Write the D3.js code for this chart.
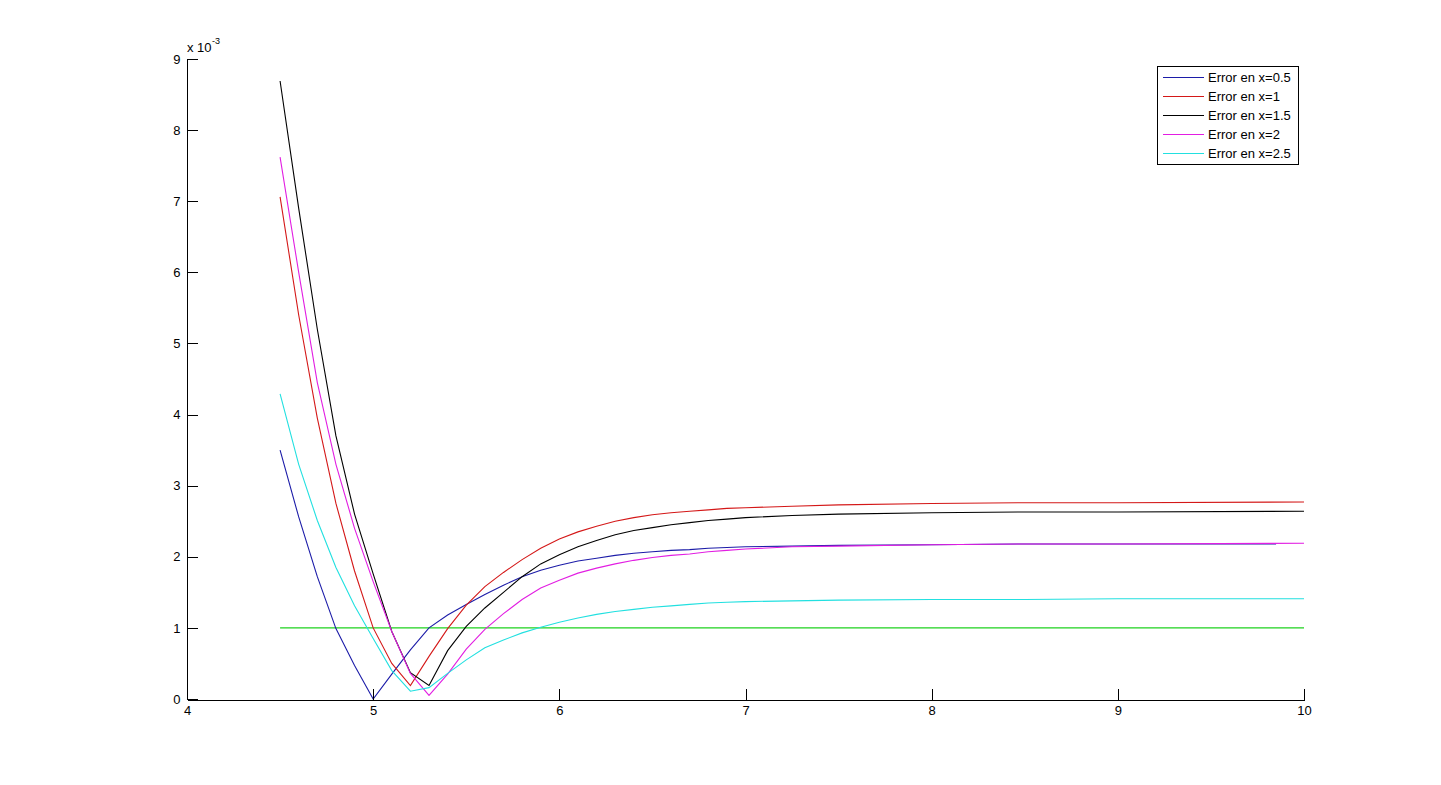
<!DOCTYPE html>
<html>
<head>
<meta charset="utf-8">
<script src="https://cdn.jsdelivr.net/npm/d3@7"></script>
<style>
    body { margin: 0; background: #fff; }
    svg text { font-family: 'Liberation Sans', Arial, sans-serif; font-size: 13px; fill: #000; }
</style>
</head>
<body>
<svg id="chart" width="1441" height="785"></svg>
<script>
// values are in units of 1e-3
const xGrid = [4.5, 4.6, 4.7, 4.8, 4.9, 5.0, 5.1, 5.2, 5.3, 5.4, 5.5, 5.6, 5.7, 5.8, 5.9, 6.0, 6.1, 6.2, 6.3, 6.4, 6.5, 6.6, 6.7, 6.8, 6.9, 7.0, 7.25, 7.5, 8, 8.5, 9, 10]
const xGridBlue = [4.5, 4.6, 4.7, 4.8, 4.9, 5.0, 5.1, 5.2, 5.3, 5.4, 5.5, 5.6, 5.7, 5.8, 5.9, 6.0, 6.1, 6.2, 6.3, 6.4, 6.5, 6.6, 6.7, 6.8, 6.9, 7.0, 7.25, 7.5, 8, 8.5, 9, 9.85]

const errBlue    = [3.50, 2.56, 1.72, 0.99, 0.47, 0.00, 0.35, 0.69, 1.00, 1.18, 1.33, 1.47, 1.60, 1.72, 1.81, 1.88, 1.94, 1.98, 2.02, 2.05, 2.07, 2.09, 2.10, 2.12, 2.13, 2.14, 2.15, 2.16, 2.17, 2.18, 2.18, 2.18]
const errRed     = [7.06, 5.40, 3.95, 2.75, 1.80, 1.00, 0.50, 0.19, 0.60, 0.99, 1.32, 1.58, 1.78, 1.96, 2.12, 2.25, 2.35, 2.43, 2.50, 2.55, 2.59, 2.62, 2.64, 2.66, 2.68, 2.69, 2.71, 2.73, 2.75, 2.76, 2.76, 2.77]
const errBlack   = [8.69, 6.90, 5.20, 3.70, 2.60, 1.76, 0.95, 0.37, 0.19, 0.68, 1.02, 1.28, 1.50, 1.72, 1.90, 2.03, 2.14, 2.23, 2.31, 2.37, 2.41, 2.45, 2.48, 2.51, 2.53, 2.55, 2.58, 2.60, 2.62, 2.63, 2.63, 2.64]
const errMagenta = [7.62, 6.00, 4.45, 3.30, 2.40, 1.65, 0.95, 0.36, 0.05, 0.35, 0.70, 0.98, 1.20, 1.40, 1.56, 1.67, 1.77, 1.84, 1.90, 1.95, 1.99, 2.02, 2.04, 2.07, 2.09, 2.11, 2.14, 2.15, 2.17, 2.18, 2.18, 2.19]
const errCyan    = [4.29, 3.30, 2.51, 1.85, 1.31, 0.85, 0.40, 0.11, 0.16, 0.36, 0.55, 0.72, 0.83, 0.93, 1.01, 1.08, 1.14, 1.19, 1.23, 1.26, 1.29, 1.31, 1.33, 1.35, 1.36, 1.37, 1.38, 1.39, 1.40, 1.40, 1.41, 1.41]

const tolX = [4.5, 10]
const tolY = [1, 1]

const xTicks = [4, 5, 6, 7, 8, 9, 10]
const yTicks = [0, 1, 2, 3, 4, 5, 6, 7, 8, 9]

const series = [
    {name: 'Error en x=0.5', xs: xGridBlue, ys: errBlue, color: '#1c1ca8'},
    {name: 'Error en x=1', xs: xGrid, ys: errRed, color: '#d41818'},
    {name: 'Error en x=1.5', xs: xGrid, ys: errBlack, color: '#000000'},
    {name: 'Error en x=2', xs: xGrid, ys: errMagenta, color: '#e21ee2'},
    {name: 'Error en x=2.5', xs: xGrid, ys: errCyan, color: '#22e0e0'}
]

let svg = d3.select('#chart')

let x = d3.scaleLinear().domain([4, 10]).range([187, 1304])
let y = d3.scaleLinear().domain([0, 9]).range([699, 59])

let line = d3.line()
.x((d) => x(d[0]))
.y((d) => y(d[1]))

svg.append('path')
.datum(d3.zip(tolX, tolY))
.attr('fill', 'none')
.attr('stroke', '#1ed21e')
.attr('stroke-width', 1.2)
.attr('d', line)

svg.selectAll('path.err')
.data(series)
.enter()
.append('path')
.attr('class', 'err')
.attr('fill', 'none')
.attr('stroke', (d) => d.color)
.attr('stroke-width', 1.1)
.attr('d', (d) => line(d3.zip(d.xs, d.ys)))

let xAxis = svg.append('g')
.attr('transform', 'translate(0,699.5)')
.call(d3.axisBottom(x).tickValues(xTicks).tickSizeInner(-11).tickSizeOuter(0).tickPadding(6).tickFormat(d3.format('d')))

let yAxis = svg.append('g')
.attr('transform', 'translate(186.5,0)')
.call(d3.axisLeft(y).tickValues(yTicks).tickSizeInner(-11).tickSizeOuter(0).tickPadding(6).tickFormat(d3.format('d')))

svg.selectAll('.domain, .tick line')
.attr('stroke', '#000')
.attr('shape-rendering', 'crispEdges')

svg.selectAll('.tick text')
.attr('font-family', "'Liberation Sans', Arial, sans-serif")
.attr('font-size', 13)

svg.append('text').text('x 10')
.attr('x', 187)
.attr('y', 52)

svg.append('text').text('-3')
.attr('x', 212)
.attr('y', 44)
.style('font-size', '9px')

// legend
let legend = svg.append('g')

legend.append('rect')
.attr('x', 1157.5)
.attr('y', 66.5)
.attr('width', 141)
.attr('height', 98)
.attr('fill', '#fff')
.attr('stroke', '#000')
.attr('shape-rendering', 'crispEdges')

legend.selectAll('line')
.data(series)
.enter()
.append('line')
.attr('x1', 1163)
.attr('x2', 1204)
.attr('y1', (d,i) => 77.5 + 19*i)
.attr('y2', (d,i) => 77.5 + 19*i)
.attr('stroke', (d) => d.color)
.attr('stroke-width', 1.1)

legend.selectAll('text')
.data(series)
.enter()
.append('text')
.attr('x', 1208)
.attr('y', (d,i) => 77.5 + 19*i)
.attr('dy', '0.35em')
.text((d) => d.name)
</script>
</body>
</html>
